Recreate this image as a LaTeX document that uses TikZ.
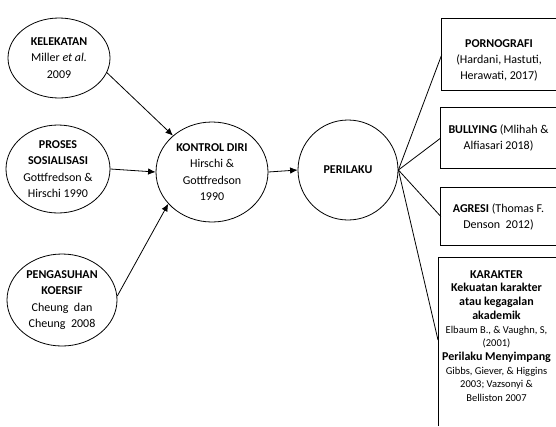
\documentclass[tikz,border=0pt]{standalone}
\usepackage{fontspec}
\setmainfont{Carlito}
\usetikzlibrary{shapes.geometric,arrows.meta}
\begin{document}
\begin{tikzpicture}[x=1pt,y=-1pt,
  ell/.style={draw,ellipse,line width=0.8pt,inner sep=0pt,align=center,font=\fontsize{12}{16.5}\selectfont},
  bx/.style={rectangle,inner sep=0pt},
  txt/.style={align=center,inner sep=0pt,font=\fontsize{12}{16}\selectfont},
  arr/.style={line width=0.8pt,-{Latex[length=7.5pt,width=6.5pt]}},
  ln/.style={line width=0.8pt}]
\useasboundingbox (0,0) rectangle (556,426);

% ellipses
\node[ell,minimum width=102pt,minimum height=80pt] (kel) at (59,58)
  {\textbf{KELEKATAN}\\Miller \textit{et al.}\\2009};
\node[ell,minimum width=104pt,minimum height=88pt] (pro) at (58,169)
  {\textbf{PROSES}\\\textbf{SOSIALISASI}\\Gottfredson \&\\Hirschi 1990};
\node[ell,minimum width=110pt,minimum height=92pt] (pen) at (62,300)
  {\textbf{PENGASUHAN}\\\textbf{KOERSIF}\\Cheung~~dan\\Cheung~~2008};
\node[ell,minimum width=112pt,minimum height=100pt] (kon) at (212,172)
  {\textbf{KONTROL DIRI}\\Hirschi \&\\Gottfredson\\1990};
\node[ell,minimum width=100pt,minimum height=100pt] (per) at (348,170)
  {\textbf{PERILAKU}};

% boxes (right side runs off the page)
\node[bx,minimum width=114pt,minimum height=71pt] (por) at (499,54.5) {};
\draw[ln] (por.north east) -- (por.north west) -- (por.south west) -- (por.south east);
\node[txt] (port) at ([yshift=-6pt]por.center)
  {\textbf{PORNOGRAFI}\\(Hardani, Hastuti,\\Herawati, 2017)};
\node[bx,minimum width=115pt,minimum height=60pt] (bul) at (498.5,138) {};
\draw[ln] (bul.north east) -- (bul.north west) -- (bul.south west) -- (bul.south east);
\node[txt] (bult) at (bul.center)
  {\textbf{BULLYING} (Mlihah \&\\Alfiasari 2018)};
\node[bx,minimum width=115pt,minimum height=57pt] (agr) at (498.5,216.5) {};
\draw[ln] (agr.north east) -- (agr.north west) -- (agr.south west) -- (agr.south east);
\node[txt] (agrt) at (agr.center)
  {\textbf{AGRESI} (Thomas F.\\Denson~~2012)};

\draw[ln] (438,426) |- (556,257);
\coordinate (karw) at (438,340);
\node[txt,font=\fontsize{12}{13.7}\selectfont] (kar) at (496.5,336)
  {\textbf{KARAKTER}\\
   \textbf{Kekuatan karakter}\\
   \textbf{atau kegagalan}\\
   \textbf{akademik}\\
   {\fontsize{10.5}{12}\selectfont Elbaum B., \& Vaughn, S,}\\
   {\fontsize{10.5}{12}\selectfont (2001)}\\
   \textbf{Perilaku Menyimpang}\\
   {\fontsize{10.5}{12}\selectfont Gibbs, Giever, \& Higgins}\\
   {\fontsize{10.5}{12}\selectfont 2003; Vazsonyi \&}\\
   {\fontsize{10.5}{12}\selectfont Belliston 2007}};

% connectors
\draw[arr] (kel.-17) -- (kon.137);
\draw[arr] (pro.east) -- (kon.180);
\draw[arr] (pen.4) -- (kon.216);
\draw[arr] (kon.east) -- (per.west);
\draw[ln] (per.east) -- (por.west);
\draw[ln] (per.east) -- (bul.west);
\draw[ln] (per.east) -- (agr.west);
\draw[ln] (per.east) -- (karw);
\end{tikzpicture}
\end{document}
